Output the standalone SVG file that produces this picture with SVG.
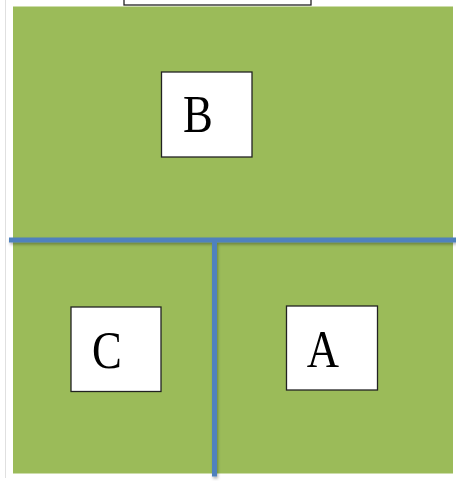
<svg xmlns="http://www.w3.org/2000/svg" width="456" height="481" viewBox="0 0 456 481">
<defs>
<style>
.box{fill:#fff;stroke:#222;stroke-width:1.3}
.lbl{font-family:"Liberation Serif","Times New Roman",serif;font-size:52px;fill:#000;text-anchor:middle}
.line{stroke:#4f81bd;stroke-width:5;fill:none}
</style>
<filter id="sh" x="-10%" y="-10%" width="120%" height="140%">
<feDropShadow dx="1" dy="2" stdDeviation="1.5" flood-color="#000" flood-opacity="0.3"/>
</filter>
</defs>
<rect width="456" height="481" fill="#fff"/>
<line x1="5.5" y1="0" x2="5.5" y2="478" stroke="#e0e0e0" stroke-width="1"/>
<rect x="124" y="-2" width="187" height="7" fill="#fff" stroke="#222" stroke-width="1.3"/>
<rect id="field" x="13" y="6.5" width="440" height="467" fill="#9bbb59"/>
<g id="connectors" filter="url(#sh)">
<line class="line" x1="9" y1="240" x2="456" y2="240"/>
<line class="line" x1="214.5" y1="242" x2="214.5" y2="476.5"/>
</g>
<g id="B">
<rect class="box" x="161.5" y="72" width="90.5" height="85"/>
<text class="lbl" transform="translate(198,132) scale(0.86,1)">B</text>
</g>
<g id="C">
<rect class="box" x="71" y="307" width="90" height="84.5"/>
<text class="lbl" transform="translate(107,368) scale(0.86,1)">C</text>
</g>
<g id="A">
<rect class="box" x="286.5" y="306" width="91" height="84"/>
<text class="lbl" transform="translate(323,367) scale(0.86,1)">A</text>
</g>
</svg>
